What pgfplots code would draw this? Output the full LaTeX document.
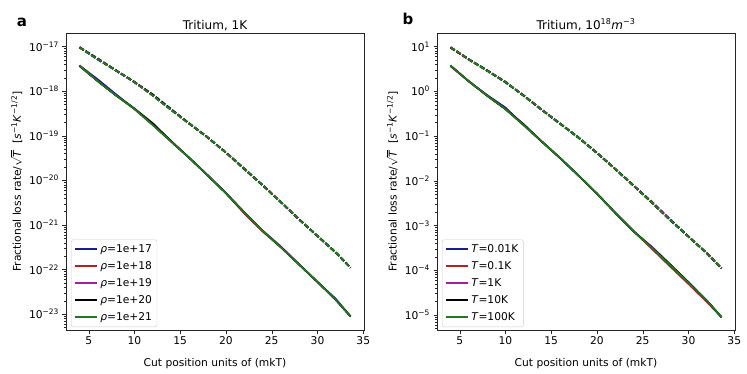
\documentclass[border=0pt]{standalone}
\usepackage{fontspec}
\setmainfont{DejaVu Sans}
\usepackage{pgfplots}
\usepackage{pgfplotstable}
\pgfplotsset{compat=1.18}

\definecolor{cblue}{HTML}{1C1C8E}
\definecolor{cred}{HTML}{B0241F}
\definecolor{cmag}{HTML}{A51DA5}
\definecolor{cblack}{HTML}{000000}
\definecolor{cgreen}{HTML}{1F7A1F}

% panel a: density scan at 1K (solid and dashed families)
\pgfplotstableread{
x    b        r        m        k        g
4.0  3.72e-18 3.72e-18 3.60e-18 3.72e-18 3.72e-18
6.0  1.82e-18 1.66e-18 1.66e-18 1.66e-18 1.66e-18
8.0  8.40e-19 7.94e-19 7.94e-19 7.94e-19 7.94e-19
10.0 3.98e-19 3.98e-19 3.98e-19 4.05e-19 3.98e-19
12.0 1.74e-19 1.74e-19 1.78e-19 1.90e-19 1.74e-19
14.0 7.41e-20 7.41e-20 7.41e-20 7.60e-20 7.41e-20
16.0 3.16e-20 3.16e-20 3.16e-20 3.16e-20 3.16e-20
18.0 1.29e-20 1.29e-20 1.29e-20 1.29e-20 1.29e-20
20.0 5.13e-21 5.13e-21 5.13e-21 5.13e-21 5.13e-21
22.0 1.91e-21 1.80e-21 1.91e-21 1.91e-21 1.91e-21
24.0 7.41e-22 7.10e-22 7.41e-22 7.41e-22 7.41e-22
26.0 3.16e-22 3.16e-22 3.30e-22 3.16e-22 3.16e-22
28.0 1.29e-22 1.29e-22 1.29e-22 1.29e-22 1.29e-22
30.0 5.25e-23 5.25e-23 5.25e-23 5.25e-23 5.25e-23
32.0 2.20e-23 2.09e-23 2.09e-23 2.09e-23 2.09e-23
33.6 8.91e-24 8.91e-24 8.91e-24 8.91e-24 8.91e-24
}\solA
\pgfplotstableread{
x    b        r        m        k        g
4.0  9.55e-18 9.55e-18 9.55e-18 9.55e-18 9.55e-18
6.0  5.40e-18 5.13e-18 5.13e-18 5.13e-18 5.13e-18
8.0  2.88e-18 2.88e-18 2.88e-18 2.88e-18 2.88e-18
10.0 1.59e-18 1.59e-18 1.59e-18 1.59e-18 1.59e-18
12.0 7.94e-19 7.94e-19 8.10e-19 8.40e-19 7.94e-19
14.0 3.80e-19 3.80e-19 3.80e-19 3.95e-19 3.80e-19
16.0 1.86e-19 1.86e-19 1.86e-19 1.86e-19 1.86e-19
18.0 9.12e-20 9.12e-20 9.12e-20 9.12e-20 9.12e-20
20.0 4.17e-20 4.17e-20 4.17e-20 4.17e-20 4.17e-20
22.0 1.82e-20 1.75e-20 1.82e-20 1.82e-20 1.82e-20
24.0 7.76e-21 7.76e-21 7.76e-21 7.76e-21 7.76e-21
26.0 3.24e-21 3.24e-21 3.24e-21 3.24e-21 3.24e-21
28.0 1.32e-21 1.32e-21 1.32e-21 1.32e-21 1.32e-21
30.0 5.62e-22 5.62e-22 5.62e-22 5.62e-22 5.62e-22
32.0 2.40e-22 2.40e-22 2.40e-22 2.40e-22 2.40e-22
33.6 1.10e-22 1.10e-22 1.10e-22 1.10e-22 1.10e-22
}\dashA

% panel b: temperature scan at 1e18 m^-3
\pgfplotstableread{
x    b        r        m        k        g
4.0  3.72     3.72     3.60     3.72     3.72
6.0  1.66     1.66     1.66     1.66     1.66
8.0  0.82     0.794    0.794    0.794    0.794
10.0 0.430    0.398    0.398    0.398    0.398
12.0 0.174    0.174    0.174    0.182    0.174
14.0 0.0741   0.0741   0.0741   0.0741   0.0741
16.0 0.0316   0.0316   0.0316   0.0316   0.0316
18.0 0.0129   0.0129   0.0129   0.0129   0.0129
20.0 0.00513  0.00513  0.00513  0.00513  0.00513
22.0 0.00191  0.00191  0.00191  0.00191  0.00191
24.0 7.41e-4  7.41e-4  7.41e-4  7.41e-4  7.41e-4
26.0 3.16e-4  3.00e-4  3.35e-4  3.20e-4  3.16e-4
28.0 1.29e-4  1.20e-4  1.36e-4  1.33e-4  1.29e-4
30.0 5.25e-5  4.90e-5  5.25e-5  5.40e-5  5.25e-5
32.0 2.09e-5  1.95e-5  2.09e-5  2.09e-5  2.09e-5
33.6 8.91e-6  8.91e-6  8.91e-6  8.91e-6  8.91e-6
}\solB
\pgfplotstableread{
x    b        r        m        k        g
4.0  9.55     9.30     9.55     9.55     9.55
6.0  5.13     5.13     5.13     5.13     5.13
8.0  2.95     2.88     2.88     2.88     2.88
10.0 1.59     1.62     1.59     1.59     1.59
12.0 0.794    0.794    0.794    0.794    0.794
14.0 0.380    0.380    0.380    0.380    0.380
16.0 0.186    0.186    0.186    0.186    0.186
18.0 0.0912   0.0912   0.0912   0.0912   0.0912
20.0 0.0417   0.0417   0.0417   0.0417   0.0417
22.0 0.0182   0.0182   0.0182   0.0182   0.0182
24.0 0.00776  0.00776  0.00776  0.00776  0.00776
26.0 0.00324  0.00324  0.00340  0.00324  0.00324
28.0 0.00132  0.00132  0.00138  0.00132  0.00132
30.0 5.62e-4  5.62e-4  5.62e-4  5.62e-4  5.62e-4
32.0 2.40e-4  2.40e-4  2.40e-4  2.40e-4  2.40e-4
33.6 1.10e-4  1.10e-4  1.10e-4  1.10e-4  1.10e-4
}\dashB

\tikzset{mytitle/.style={font=\fontsize{12}{14}\selectfont, anchor=base, inner sep=0pt}}

\pgfplotsset{
  mypanel/.style={
    scale only axis,
    width=298pt, height=297pt,
    xmin=2.52, xmax=35.08,
    xtick={5,10,...,35},
    tick pos=left,
    tick align=outside,
    major tick length=3.5pt,
    minor tick length=2pt,
    axis line style={black!85},
    tick style={black!85},
    /pgf/number format/assume math mode=true,
    ticklabel style={font=\fontsize{10.7}{12.5}\selectfont},
    label style={font=\fontsize{10.7}{12.5}\selectfont},
    xlabel style={yshift=-6pt},
    yticklabel={\pgfmathtruncatemacro\e{round(\tick/2.302585093)}10\textsuperscript{\ifnum\e<0 −\number-\e\else\number\e\fi}},
    xlabel={Cut position units of (mkT)},
    ylabel={Fractional loss rate/$\sqrt{\mbox{\textit{T}}}$\ \ [\textit{s}\textsuperscript{−1}\textit{K}\textsuperscript{−1/2}]},
    legend cell align=left,
    legend image code/.code={\draw[sharp corners, solid, line width=2pt] (0pt,0pt) -- (22pt,0pt);},
    legend style={at={(0.017,0.01)}, anchor=south west, draw=black!20,
      rounded corners=2pt, fill=white,
      font=\fontsize{10.7}{12.5}\selectfont, row sep=3.5pt, inner xsep=3pt, inner ysep=3pt},
  },
  mysol/.style={line width=1.7pt},
  mydsh/.style={line width=1.9pt, dash pattern=on 5pt off 2pt, forget plot},
}

\begin{document}
\begin{tikzpicture}
\path[use as bounding box] (-66pt,-43pt) rectangle (681pt,330pt);

\begin{axis}[mypanel, ymode=log, at={(0pt,0pt)}, anchor=south west,
  ymin=4.4e-24, ymax=2.0e-17]
\addplot[mysol, cblue] table[x=x, y=b] {\solA};
\addplot[mydsh, cblue] table[x=x, y=b] {\dashA};
\addplot[mysol, cred] table[x=x, y=r] {\solA};
\addplot[mydsh, cred] table[x=x, y=r] {\dashA};
\addplot[mysol, cmag] table[x=x, y=m] {\solA};
\addplot[mydsh, cmag] table[x=x, y=m] {\dashA};
\addplot[mysol, cblack] table[x=x, y=k] {\solA};
\addplot[mydsh, cblack] table[x=x, y=k] {\dashA};
\addplot[mysol, cgreen] table[x=x, y=g] {\solA};
\addplot[mydsh, cgreen] table[x=x, y=g] {\dashA};
\legend{\textit{ρ}=1e+17, \textit{ρ}=1e+18, \textit{ρ}=1e+19, \textit{ρ}=1e+20, \textit{ρ}=1e+21}
\end{axis}

\begin{axis}[mypanel, ymode=log, at={(371pt,0pt)}, anchor=south west,
  ymin=4.6e-6, ymax=20]
\addplot[mysol, cblue] table[x=x, y=b] {\solB};
\addplot[mydsh, cblue] table[x=x, y=b] {\dashB};
\addplot[mysol, cred] table[x=x, y=r] {\solB};
\addplot[mydsh, cred] table[x=x, y=r] {\dashB};
\addplot[mysol, cmag] table[x=x, y=m] {\solB};
\addplot[mydsh, cmag] table[x=x, y=m] {\dashB};
\addplot[mysol, cblack] table[x=x, y=k] {\solB};
\addplot[mydsh, cblack] table[x=x, y=k] {\dashB};
\addplot[mysol, cgreen] table[x=x, y=g] {\solB};
\addplot[mydsh, cgreen] table[x=x, y=g] {\dashB};
\legend{\textit{T}=0.01K, \textit{T}=0.1K, \textit{T}=1K, \textit{T}=10K, \textit{T}=100K}
\end{axis}

\node[mytitle] at (149pt,301pt) {Tritium, 1K};
\node[mytitle] at (520pt,301pt) {Tritium, 10\textsuperscript{18}\textit{m}\textsuperscript{−3}};
\node[font=\bfseries\fontsize{15}{17}\selectfont] at (-44pt,308pt) {a};
\node[font=\bfseries\fontsize{15}{17}\selectfont] at (342pt,311pt) {b};
\end{tikzpicture}
\end{document}
